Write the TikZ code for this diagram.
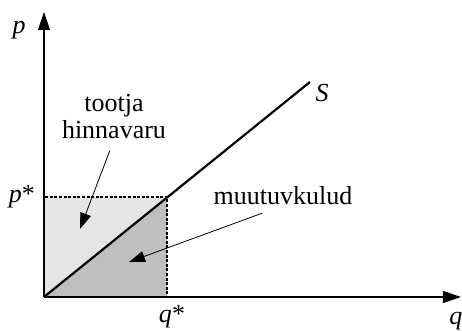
\documentclass[tikz,border=0pt]{standalone}
\usepackage{fontspec}
\setmainfont{Liberation Serif}
\usetikzlibrary{arrows.meta}
\tikzset{
  axis/.style={line width=0.6pt,-{Triangle[length=9pt,width=6pt]}},
  pointer/.style={line width=0.4pt,-{Triangle[length=8pt,width=5.5pt]}},
  lbl/.style={font=\fontsize{13}{13.5}\selectfont,inner sep=0pt},
}
\begin{document}
\begin{tikzpicture}[x=0.5pt,y=0.5pt]
		% frame of the picture (462 x 331)
		\useasboundingbox (0,0) rectangle (462,331);
		
		% points of the diagram
		\coordinate (o) at (44,34);
		\coordinate (ptop) at (44,134);
		\coordinate (qst) at (167,34);
		\coordinate (eq) at (167,134);
		\coordinate (send) at (310,249);
		\coordinate (ytip) at (44,319);
		\coordinate (xtip) at (461,34);
		
		% shaded areas
		\fill[gray!20] (o) -- (ptop) -- (eq) -- cycle;
		\fill[gray!50] (o) -- (qst) -- (eq) -- cycle;
		\draw[line width=1.2pt,dash pattern=on 1.5pt off 0.8pt] (o) -- (ptop) -- (eq) -- (qst);
		
		% axes
		\draw[axis] (o) -- (ytip);
		\draw[axis] (o) -- (xtip);
		
		% supply curve
		\draw[line width=1.1pt] (o) -- (send);
		
		% labels
		\node[lbl] (p) at (19,301) {\textit{p}};
		\node[lbl] (pstar) at (22,134) {\textit{p}*};
		\node[lbl] (qstar) at (172,14) {\textit{q}*};
		\node[lbl] (q) at (456,10) {\textit{q}};
		\node[lbl] (s) at (322,238) {\textit{S}};
		\node[lbl,align=center] (hinnavaru) at (114,214) {tootja\\hinnavaru};
		\node[lbl] (muutuv) at (283,135) {muutuvkulud};
		
		% pointers into the areas
		\coordinate (upper) at (80,102);
		\coordinate (lower) at (129,69);
		\draw[pointer,shorten <=6pt] (hinnavaru.south) -- (upper);
		\draw[pointer,shorten <=11pt] (muutuv.south) -- (lower);
	\end{tikzpicture}
\end{document}
